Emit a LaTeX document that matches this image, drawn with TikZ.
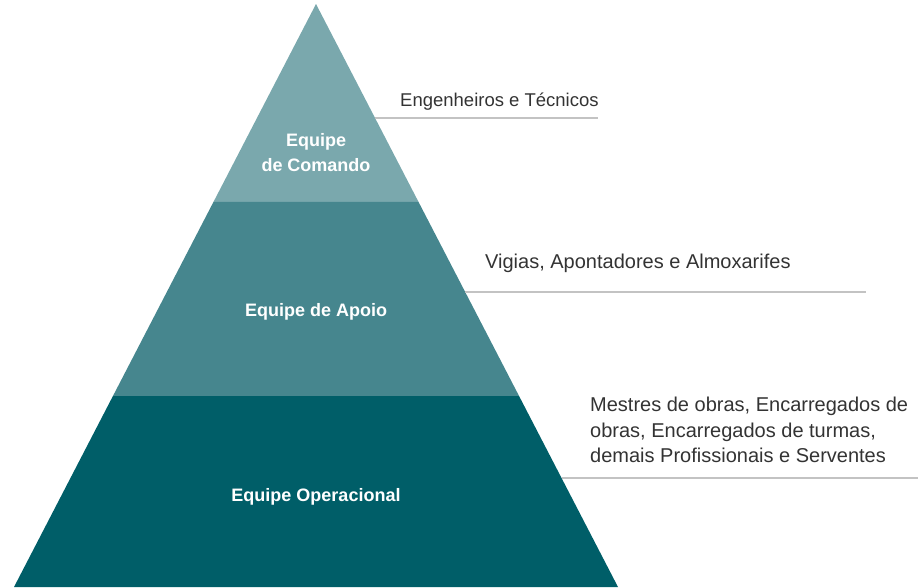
\documentclass[tikz,border=0pt]{standalone}
\usepackage{fontspec}
\setmainfont{Liberation Sans}
\usepackage{xcolor}
\usepackage{tikz}
\usetikzlibrary{calc}
\definecolor{comando}{RGB}{122,168,173}
\definecolor{apoio}{RGB}{70,134,142}
\definecolor{operacional}{RGB}{0,94,104}
\definecolor{texto}{RGB}{51,51,51}
\definecolor{linha}{RGB}{195,195,195}

\begin{document}
\begin{tikzpicture}[x=1pt,y=-1pt,
	nivel/.style={text=white,font=\bfseries\fontsize{18}{25}\selectfont,align=center,inner sep=0pt},
	funcao/.style={text=texto,align=left,inner sep=0pt},
	guia/.style={linha,line width=1.3pt}]
	\useasboundingbox (0,0) rectangle (923,587);
	\coordinate (topo) at (316,4);
	\coordinate (base esq) at (14,587);
	\coordinate (base dir) at (618,587);
	\coordinate (a esq) at ($(topo)!0.3396!(base esq)$);
	\coordinate (a dir) at ($(topo)!0.3396!(base dir)$);
	\coordinate (b esq) at ($(topo)!0.6724!(base esq)$);
	\coordinate (b dir) at ($(topo)!0.6724!(base dir)$);
	\fill[comando] (topo) -- (a esq) -- (a dir) -- cycle;
	\fill[apoio] (a esq) -- (b esq) -- (b dir) -- (a dir) -- cycle;
	\fill[operacional] (b esq) -- (base esq) -- (base dir) -- (b dir) -- cycle;
	\node[nivel] (comando) at (316,153) {Equipe\\de Comando};
	\node[nivel,anchor=base] (apoio) at (316,316) {Equipe de Apoio};
	\node[nivel,anchor=base] (operacional) at (316,501) {Equipe Operacional};
	\coordinate (g1) at ($(topo)!0.1955!(base dir)$);
	\coordinate (g2) at ($(topo)!0.4940!(base dir)$);
	\coordinate (g3) at ($(topo)!0.8130!(base dir)$);
	\coordinate (g1 fim) at (598,0);
	\coordinate (g2 fim) at (866,0);
	\coordinate (g3 fim) at (918,0);
	\draw[guia] (g1) -- (g1 -| g1 fim);
	\draw[guia] (g2) -- (g2 -| g2 fim);
	\draw[guia] (g3) -- (g3 -| g3 fim);
	\node[funcao,anchor=base west,font=\fontsize{18.5}{22}\selectfont] (engenheiros) at (400,106) {Engenheiros e Técnicos};
	\node[funcao,anchor=base west,font=\fontsize{20}{24}\selectfont] (vigias) at (485,268) {Vigias, Apontadores e Almoxarifes};
	\node[funcao,anchor=north west,font=\fontsize{20}{25.5}\selectfont] (mestres) at (590,397) {Mestres de obras, Encarregados de\\obras, Encarregados de turmas,\\demais Profissionais e Serventes};
\end{tikzpicture}
\end{document}
